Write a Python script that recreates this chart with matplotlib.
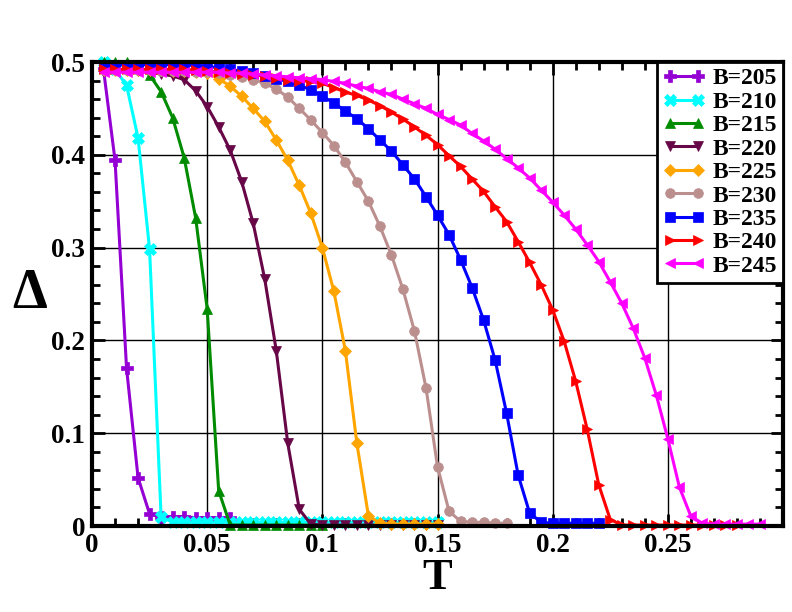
import matplotlib
matplotlib.use("Agg")
import matplotlib.pyplot as plt
from matplotlib.ticker import MultipleLocator, FixedLocator

T = [0.005, 0.010, 0.015, 0.020, 0.025, 0.030, 0.035, 0.040, 0.045, 0.050,
     0.055, 0.060, 0.065, 0.070, 0.075, 0.080, 0.085, 0.090, 0.095, 0.100,
     0.105, 0.110, 0.115, 0.120, 0.125, 0.130, 0.135, 0.140, 0.145, 0.150,
     0.155, 0.160, 0.165, 0.170, 0.175, 0.180, 0.185, 0.190, 0.195, 0.200,
     0.205, 0.210, 0.215, 0.220, 0.225, 0.230, 0.235, 0.240, 0.245, 0.250,
     0.255, 0.260, 0.265, 0.270, 0.275, 0.280, 0.285, 0.290]

D205 = [0.492, 0.394, 0.170, 0.052, 0.013, 0.010, 0.010, 0.010, 0.009, 0.009,
        0.009, 0.009]
D210 = [0.500, 0.492, 0.475, 0.418, 0.298, 0.010, 0.004, 0.004, 0.004, 0.004,
        0.004, 0.004, 0.004, 0.004, 0.004, 0.004, 0.004, 0.004, 0.004, 0.004,
        0.004, 0.004, 0.004, 0.004, 0.004, 0.004, 0.004, 0.004, 0.004, 0.004]
D215 = [0.500, 0.500, 0.500, 0.496, 0.486, 0.468, 0.440, 0.397, 0.332, 0.234,
        0.038, 0.001, 0.001, 0.001, 0.001, 0.001, 0.001, 0.001, 0.001, 0.001]
D220 = [0.492, 0.492, 0.491, 0.490, 0.489, 0.487, 0.485, 0.481, 0.469, 0.452,
        0.430, 0.405, 0.371, 0.326, 0.266, 0.189, 0.089, 0.018, 0.002, 0.001,
        0.001, 0.001, 0.001, 0.001, 0.001, 0.001, 0.001, 0.001, 0.001, 0.001]
D225 = [0.491, 0.491, 0.491, 0.491, 0.491, 0.491, 0.490, 0.490, 0.489, 0.488,
        0.482, 0.474, 0.463, 0.450, 0.436, 0.416, 0.394, 0.367, 0.337, 0.300,
        0.253, 0.189, 0.089, 0.011, 0.003, 0.002, 0.002, 0.002, 0.002, 0.002]
D230 = [0.491, 0.491, 0.491, 0.491, 0.491, 0.490, 0.490, 0.490, 0.489, 0.489,
        0.488, 0.486, 0.484, 0.481, 0.477, 0.471, 0.462, 0.450, 0.4375, 0.424,
        0.410, 0.392, 0.371, 0.350, 0.323, 0.292, 0.255, 0.210, 0.149, 0.064,
        0.016, 0.005, 0.004, 0.004, 0.003, 0.003]
D235 = [0.497, 0.497, 0.497, 0.497, 0.497, 0.497, 0.497, 0.497, 0.496, 0.495,
        0.494, 0.492, 0.490, 0.488, 0.485, 0.482, 0.479, 0.475, 0.470, 0.463,
        0.456, 0.447, 0.439, 0.428, 0.416, 0.404, 0.389, 0.374, 0.355, 0.335,
        0.314, 0.287, 0.257, 0.222, 0.179, 0.1215, 0.055, 0.014, 0.004, 0.003,
        0.003, 0.003, 0.003, 0.003]
D240 = [0.492, 0.492, 0.492, 0.492, 0.492, 0.492, 0.492, 0.492, 0.491, 0.490,
        0.489, 0.488, 0.487, 0.486, 0.485, 0.483, 0.481, 0.480, 0.479, 0.477,
        0.4725, 0.4675, 0.464, 0.459, 0.453, 0.446, 0.4385, 0.430, 0.421, 0.411,
        0.399, 0.3875, 0.374, 0.3605, 0.344, 0.328, 0.3065, 0.284, 0.260, 0.233,
        0.199, 0.156, 0.104, 0.0445, 0.007, 0.001, 0.001, 0.001, 0.001, 0.001,
        0.001, 0.001, 0.001, 0.001, 0.001, 0.001]
D245 = [0.489, 0.489, 0.489, 0.489, 0.489, 0.489, 0.489, 0.489, 0.489, 0.489,
        0.489, 0.488, 0.488, 0.487, 0.486, 0.485, 0.484, 0.483, 0.482, 0.481,
        0.479, 0.477, 0.474, 0.4715, 0.468, 0.465, 0.460, 0.455, 0.450, 0.4435,
        0.438, 0.432, 0.423, 0.415, 0.406, 0.396, 0.386, 0.375, 0.362, 0.349,
        0.335, 0.320, 0.303, 0.285, 0.263, 0.240, 0.213, 0.181, 0.141, 0.094,
        0.042, 0.0104, 0.003, 0.002, 0.002, 0.002, 0.002, 0.002]

labels = ["B=205", "B=210", "B=215", "B=220", "B=225", "B=230", "B=235", "B=240", "B=245"]
series = [D205, D210, D215, D220, D225, D230, D235, D240, D245]
colors = ["#9400D3", "#00FFFF", "#008B00", "#670748", "#FFA500", "#BC8F8F",
          "#0000FF", "#FF0000", "#FF00FF"]
markers = ["P", "X", "^", "v", "D", "o", "s", ">", "<"]
msizes = [8, 8, 7.5, 7.5, 6, 7, 7, 7.5, 7.5]

xticks = [0, 0.05, 0.1, 0.15, 0.2, 0.25]
xticklabels = ["0", "0.05", "0.1", "0.15", "0.2", "0.25"]
yticks = [0, 0.1, 0.2, 0.3, 0.4, 0.5]
yticklabels = ["0", "0.1", "0.2", "0.3", "0.4", "0.5"]

plt.rcParams['font.family'] = ['Liberation Serif', 'DejaVu Serif']
plt.rcParams['font.weight'] = 'bold'

fig = plt.figure(figsize=(7.92, 6.12), dpi=100)
ax = fig.add_axes([92/792, 1-526/612, (783-92)/792, (526-62)/612])

for d, lab, c, m, ms in zip(series, labels, colors, markers, msizes):
    ax.plot(T[:len(d)], d, color=c, marker=m, markersize=ms, linewidth=2.2,
            markeredgewidth=0.5, markeredgecolor=c, label=lab, clip_on=False, zorder=3)

ax.set_xlim(0, 0.3)
ax.set_ylim(0, 0.5)
ax.xaxis.set_major_locator(FixedLocator(xticks))
ax.set_xticklabels(xticklabels)
ax.yaxis.set_major_locator(FixedLocator(yticks))
ax.set_yticklabels(yticklabels)
ax.xaxis.set_minor_locator(MultipleLocator(0.01))
ax.yaxis.set_minor_locator(MultipleLocator(0.02))
ax.tick_params(which='both', direction='in', top=True, right=True, width=2, colors='black')
ax.tick_params(which='major', length=9, labelsize=19.5, pad=5)
ax.tick_params(which='minor', length=6)
for lbl in ax.get_xticklabels() + ax.get_yticklabels():
    lbl.set_fontweight('bold')
ax.grid(True, which='major', color='black', linewidth=1.0, zorder=1)
for s in ax.spines.values():
    s.set_linewidth(3)
    s.set_zorder(4)

ax.set_xlabel("T", fontsize=32, fontweight='bold', labelpad=0)
ax.set_ylabel("Δ", fontsize=40, fontweight='bold', rotation=0, ha='center', va='center')
ax.yaxis.set_label_coords(-0.09, 0.5)

leg = ax.legend(loc='upper right', bbox_to_anchor=(1.0, 1.0), borderaxespad=0,
                fontsize=17, labelspacing=0.08, handlelength=1.8, handletextpad=0.3,
                numpoints=2, borderpad=0.25, fancybox=False, framealpha=1,
                edgecolor='black')
leg.get_frame().set_linewidth(2)
for t in leg.get_texts():
    t.set_fontweight('bold')
leg.set_zorder(5)

fig.savefig("out.png", dpi=100)
